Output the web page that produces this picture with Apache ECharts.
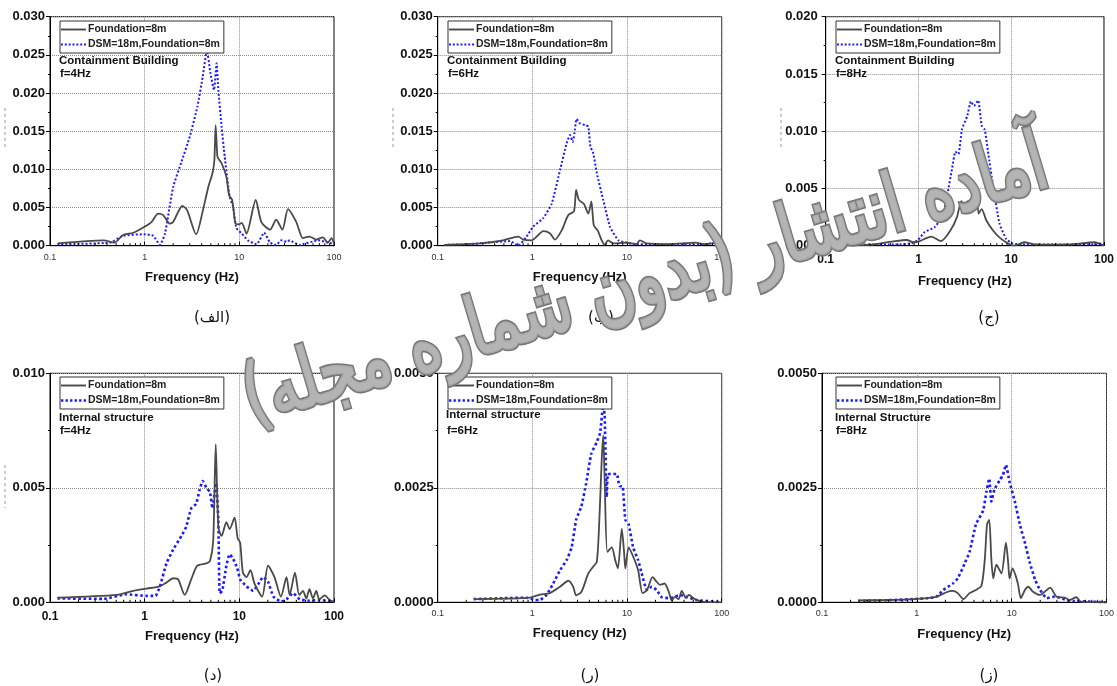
<!DOCTYPE html>
<html>
<head>
<meta charset="utf-8">
<script src="https://cdn.jsdelivr.net/npm/echarts@6/dist/echarts.min.js"></script>
<style>
  html, body { margin: 0; padding: 0; background: #fff; }
  #chart { width: 1117px; height: 686px; }
</style>
</head>
<body>
<div id="chart"></div>
<script>
// ---- Fourier amplitude spectra: [frequency (Hz), amplitude] ----
// Containment building, f = 4 Hz
const cb4Foundation = [[0.12,0.0003],[0.37,0.0007],[0.48,0.0004],[0.59,0.0014],[0.76,0.0017],[1.0,0.0025],[1.18,0.0031],[1.39,0.0042],[1.57,0.0040],[1.84,0.0029],[2.0,0.0031],[2.5,0.0052],[2.8,0.0047],[3.5,0.0015],[4.1,0.0045],[4.7,0.0077],[5.2,0.0095],[5.45,0.0112],[5.62,0.0158],[5.85,0.0118],[6.0,0.0114],[6.5,0.0108],[7.3,0.0090],[7.8,0.0066],[8.4,0.0060],[9.1,0.0029],[9.9,0.0028],[10.6,0.0030],[11.9,0.0016],[14.9,0.0060],[17.1,0.0031],[21.1,0.0021],[24.5,0.0034],[28.5,0.0021],[32.7,0.0048],[40,0.0031],[47,0.0010],[55,0.0012],[65,0.0008],[76,0.0011],[86,0.0004],[94,0.0010],[100,0.0003]];
const cb4Dsm = [[0.12,0.0002],[0.43,0.0004],[0.59,0.0013],[0.98,0.0015],[1.23,0.0013],[1.45,0.0001],[1.64,0.0016],[2.0,0.0077],[2.45,0.0110],[3.0,0.0143],[3.6,0.0182],[4.1,0.0221],[4.55,0.0256],[4.95,0.0226],[5.4,0.0204],[5.75,0.0239],[6.0,0.0204],[6.5,0.0156],[7.0,0.0117],[7.9,0.0064],[8.6,0.0051],[9.3,0.0023],[10.6,0.0016],[12.3,0.0007],[15.2,0.0002],[18.3,0.0017],[21.1,0.0004],[24.5,0.0001],[27.7,0.0007],[31.7,0.0005],[34,0.0007],[43,0.0001],[68,0.0007],[100,0.0002]];
// Containment building, f = 6 Hz
const cb6Foundation = [[0.117,0.0001],[0.28,0.0003],[0.49,0.0007],[0.71,0.0012],[0.8,0.0008],[0.98,0.0007],[1.31,0.0019],[1.54,0.0016],[1.73,0.0008],[2.04,0.0020],[2.39,0.0040],[2.75,0.0045],[2.9,0.0073],[3.1,0.0060],[3.5,0.0055],[3.9,0.0042],[4.2,0.0058],[4.45,0.0027],[4.9,0.0020],[5.4,0.0007],[5.8,0.0001],[6.3,0.0007],[7.2,0.0003],[9.9,0.0004],[12.5,0.0002],[13.7,0.0007],[16,0.0003],[28,0.0002],[53,0.0004],[64,0.0002],[88,0.0004],[100,0.0007]];
const cb6Dsm = [[0.117,0.0001],[0.22,0.0002],[0.33,0.0004],[0.58,0.0006],[0.71,0.0000],[0.87,0.0012],[1.02,0.0025],[1.3,0.0036],[1.6,0.0055],[1.96,0.0099],[2.3,0.0134],[2.5,0.0145],[2.67,0.0136],[2.78,0.0147],[2.93,0.0166],[3.2,0.0160],[3.6,0.0158],[3.9,0.0156],[4.1,0.0130],[4.4,0.0121],[4.8,0.0095],[5.6,0.0060],[6.6,0.0025],[8.1,0.0007],[9.9,0.0004],[11.7,0.0002],[19,0.0002],[42,0.0001],[69,0.0002],[81,0.0004],[92,0.0002],[100,0.0001]];
// Containment building, f = 8 Hz
const cb8Foundation = [[0.116,0.0000],[0.32,0.0001],[0.56,0.0004],[0.75,0.0005],[0.88,0.0003],[1.03,0.0004],[1.37,0.0008],[1.75,0.0004],[2.2,0.0013],[2.6,0.0025],[2.9,0.0039],[3.1,0.0035],[3.4,0.0039],[3.8,0.0034],[4.2,0.0050],[4.45,0.0028],[4.8,0.0032],[5.4,0.0022],[6.4,0.0013],[7.5,0.0007],[9.2,0.0002],[10.8,0.0000],[13.8,0.0003],[18.3,0.0001],[41,0.0001],[79,0.0003],[100,0.0000]];
const cb8Dsm = [[0.116,0.0001],[0.56,0.0001],[0.84,0.0002],[0.99,0.0005],[1.17,0.0012],[1.49,0.0016],[1.82,0.0026],[2.05,0.0045],[2.3,0.0067],[2.5,0.0082],[2.7,0.0080],[2.95,0.0102],[3.35,0.0113],[3.67,0.0126],[3.97,0.0122],[4.4,0.0127],[4.8,0.0105],[5.2,0.0101],[5.6,0.0083],[6.4,0.0051],[7.5,0.0019],[8.8,0.0006],[10.3,0.0002],[13.2,0.0001],[41,0.0001],[79,0.0001],[93,0.0002],[100,0.0001]];
// Internal structure, f = 4 Hz
const is4Foundation = [[0.12,0.0002],[0.51,0.00032],[0.76,0.0005],[1.05,0.0006],[1.45,0.0007],[1.7,0.00086],[2.0,0.00105],[2.26,0.0010],[2.65,0.00032],[3.1,0.0010],[3.6,0.0016],[4.5,0.0017],[4.9,0.0018],[5.3,0.0027],[5.63,0.0069],[6.0,0.0033],[6.5,0.0029],[7.3,0.0035],[7.9,0.0032],[8.9,0.0037],[9.6,0.0028],[10.2,0.0026],[10.9,0.0013],[11.9,0.0011],[13.1,0.0014],[14.5,0.0008],[17.4,0.00025],[20.1,0.0016],[23.5,0.0011],[27.5,0.00025],[31.5,0.0011],[34,0.00032],[38.7,0.0013],[43,0.00032],[47,0.0005],[51,0.00017],[55,0.00057],[60,0.00017],[65,0.0005],[70,0.00013],[80,0.0003],[90,0.0001],[100,0.00003]];
const is4Dsm = [[0.12,0.00017],[0.37,0.00015],[0.64,0.00035],[1.05,0.00028],[1.3,0.00028],[1.45,0.0007],[1.7,0.0017],[2.0,0.0023],[2.45,0.0029],[2.75,0.0033],[3.1,0.0041],[3.5,0.0043],[3.8,0.0049],[4.1,0.0053],[4.5,0.0050],[4.9,0.0048],[5.2,0.0041],[5.5,0.0048],[5.7,0.0052],[6.0,0.0036],[6.2,0.0004],[6.6,0.0005],[7.3,0.0016],[7.9,0.0021],[8.6,0.0019],[9.5,0.0015],[10.2,0.0010],[11.9,0.0007],[14,0.0005],[15.9,0.0008],[17.8,0.0011],[20.1,0.0009],[22.9,0.00025],[27.7,0.00003],[31.5,0.00013],[37,0.0004],[43.5,0.00013],[55,0.00007],[70,0.0001],[100,0.00003]];
// Internal structure, f = 6 Hz
const is6Foundation = [[0.24,0.00007],[0.49,0.00008],[0.94,0.0001],[1.2,0.00017],[1.53,0.0002],[1.96,0.00034],[2.4,0.00047],[2.7,0.00034],[2.9,0.00015],[3.3,0.00023],[3.9,0.00063],[4.4,0.00078],[4.8,0.00089],[5.1,0.0018],[5.4,0.0031],[5.6,0.00365],[5.8,0.0027],[6.2,0.0011],[6.9,0.0012],[7.5,0.00092],[8.0,0.00074],[8.8,0.0016],[9.3,0.0011],[9.6,0.00074],[10.4,0.0012],[11.6,0.0010],[13.1,0.0007],[14.6,0.0002],[16.3,0.00027],[18.6,0.00055],[20.5,0.00045],[22.3,0.00038],[24.9,0.00041],[27.6,0.00023],[29.7,0.00004],[32,0.00012],[35,0.00007],[37.9,0.00025],[42,0.00009],[45,0.00016],[52,0.00007],[64,0.00001],[100,0]];
const is6Dsm = [[0.24,0.00007],[0.49,0.00009],[0.87,0.0001],[1.07,0.00005],[1.2,0.00005],[1.41,0.00016],[1.66,0.00041],[1.96,0.0007],[2.3,0.00092],[2.6,0.0012],[2.9,0.0018],[3.3,0.0021],[3.7,0.0026],[4.2,0.00325],[4.8,0.0035],[5.2,0.0037],[5.6,0.0043],[5.8,0.0041],[6.1,0.0023],[6.3,0.0028],[7.2,0.0028],[7.8,0.0028],[8.3,0.00254],[9.0,0.00253],[9.6,0.0018],[10.4,0.0017],[11.6,0.0012],[13.1,0.00092],[14.3,0.00063],[16.2,0.00027],[18.3,0.00034],[20.5,0.00027],[23.3,0.00011],[28.5,0.00009],[36,0.00016],[44,0.00011],[54,0.00005],[100,0]];
// Internal structure, f = 8 Hz
const is8Foundation = [[0.24,0.00004],[0.48,0.00005],[0.91,0.00007],[1.6,0.00012],[2.05,0.00022],[2.4,0.00025],[2.7,0.0002],[3.1,0.00007],[3.6,0.0002],[4.2,0.00027],[4.8,0.00036],[5.2,0.00092],[5.5,0.0017],[5.8,0.0018],[6.1,0.00096],[6.4,0.00052],[6.9,0.00082],[7.8,0.00063],[8.7,0.0013],[9.2,0.00085],[9.5,0.00052],[10.2,0.00074],[11.1,0.00056],[11.7,0.00038],[12.5,0.00009],[13.8,0.00027],[15,0.00034],[16.8,0.00023],[19.9,0.00016],[23.5,0.00027],[25.4,0.00032],[29.9,0.00012],[36.4,0.0001],[41,0.00005],[48,0.00011],[54,0.00001],[100,0]];
const is8Dsm = [[0.24,0.00003],[0.56,0.00005],[0.91,0.00007],[1.3,0.00009],[1.6,0.00012],[1.9,0.00027],[2.4,0.00041],[2.7,0.00052],[3.2,0.00085],[3.6,0.0011],[4.2,0.0017],[5.0,0.0020],[5.4,0.0024],[5.8,0.0027],[6.1,0.0022],[6.6,0.00247],[7.5,0.00267],[8.1,0.00278],[8.7,0.0030],[9.5,0.00263],[10.8,0.0022],[12.2,0.0017],[13.8,0.0013],[15.6,0.00085],[17.7,0.00049],[19.9,0.00027],[23.5,0.00009],[27.4,0.00012],[32,0.0001],[37.7,0.00005],[44.5,0.00003],[100,0]];

// Series names and per-panel text
const seriesNames = ['Foundation=8m', 'DSM=18m,Foundation=8m'];
const panelTitles = ['Containment Building', 'Containment Building', 'Containment Building', 'Internal structure', 'Internal structure', 'Internal Structure'];
const panelFreqs = ['f=4Hz', 'f=6Hz', 'f=8Hz', 'f=4Hz', 'f=6Hz', 'f=8Hz'];
const panelTags = ['(الف)', '(ب)', '(ج)', '(د)', '(ر)', '(ز)'];
const yMaxes = [0.030, 0.030, 0.020, 0.010, 0.0050, 0.0050];
const yIntervals = [0.005, 0.005, 0.005, 0.005, 0.0025, 0.0025];
const yDecimals = [3, 3, 3, 3, 4, 4];
const xTitle = 'Frequency (Hz)';
const watermarkText = 'آماده انتشار (بدون شماره مجله)';
// positions of the log-axis minor ticks (2..9 of each decade)
const logMinorTicks = [0.2,0.3,0.4,0.5,0.6,0.7,0.8,0.9,2,3,4,5,6,7,8,9,20,30,40,50,60,70,80,90];

const foundationData = [cb4Foundation, cb6Foundation, cb8Foundation, is4Foundation, is6Foundation, is8Foundation];
const dsmData = [cb4Dsm, cb6Dsm, cb8Dsm, is4Dsm, is6Dsm, is8Dsm];

// ---- layout ----
const layout = [
  { left: 50,    top: 16.7,  width: 284,   height: 229, boldX: false, yMargin: 5, nameGap: 25, lx: 60,  ly: 21,  tx: 59,  ty: 61,  fy: 74,  tag: [212, 318], dotW: 2.0 },
  { left: 437.7, top: 16.7,  width: 284,   height: 229, boldX: false, yMargin: 5, nameGap: 25, lx: 448, ly: 21,  tx: 447, ty: 61,  fy: 74,  tag: [601, 318], dotW: 2.0 },
  { left: 825.7, top: 16.7,  width: 283.5, height: 229, boldX: true,  yMargin: 8, nameGap: 29, lx: 836, ly: 21,  tx: 835, ty: 61,  fy: 74,  tag: [989, 318], dotW: 2.0 },
  { left: 50,    top: 373.3, width: 284,   height: 229, boldX: true,  yMargin: 5, nameGap: 28, lx: 60,  ly: 377, tx: 59,  ty: 418, fy: 431, tag: [213, 676], dotW: 2.6 },
  { left: 437.7, top: 373.3, width: 284,   height: 229, boldX: false, yMargin: 4, nameGap: 25, lx: 448, ly: 377, tx: 446, ty: 415, fy: 431, tag: [590, 676], dotW: 2.6 },
  { left: 822,   top: 373.3, width: 288,   height: 229, boldX: false, yMargin: 5, nameGap: 26, lx: 836, ly: 377, tx: 835, ty: 418, fy: 431, tag: [989, 676], dotW: 2.6 }
];

const NUM_FONT = 'Liberation Sans, Arial, Helvetica, sans-serif';
const GRAY = '#4a4a4a';
const BLUE = '#1a1aff';
// legend keys: a solid bar and a row of square dots
const SOLID_KEY = 'path://M0,0H26V2H0Z';
const DOT_KEY = 'path://M0,0h2v2h-2z M4,0h2v2h-2z M8,0h2v2h-2z M12,0h2v2h-2z M16,0h2v2h-2z M20,0h2v2h-2z M24,0h2v2h-2z';
const BIG_DOT_KEY = 'path://M0,0h2.6v2.6h-2.6z M5,0h2.6v2.6h-2.6z M10,0h2.6v2.6h-2.6z M15,0h2.6v2.6h-2.6z M20,0h2.6v2.6h-2.6z M25,0h2.6v2.6h-2.6z';

const grids = [], xAxes = [], yAxes = [], series = [], legends = [], graphics = [];

layout.forEach((L, i) => {
  grids.push({ left: L.left, top: L.top, width: L.width, height: L.height, show: true, borderColor: '#000', borderWidth: 1, backgroundColor: 'transparent' });

  xAxes.push({
    gridIndex: i, type: 'log', logBase: 10, min: 0.1, max: 100,
    name: xTitle, nameLocation: 'middle', nameGap: L.nameGap,
    nameTextStyle: { fontFamily: NUM_FONT, fontWeight: 'bold', fontSize: 13, color: '#111' },
    axisLine: { show: true, onZero: false, lineStyle: { color: '#000', width: 1 } },
    axisTick: { show: true, inside: true, length: 4, lineStyle: { color: '#000' } },
    axisLabel: {
      margin: L.boldX ? 8 : 7,
      fontFamily: NUM_FONT,
      fontSize: L.boldX ? 12 : 9,
      fontWeight: L.boldX ? 'bold' : 'normal',
      color: L.boldX ? '#111' : '#333',
      formatter: v => String(+(+v).toPrecision(3))
    },
    splitLine: { show: true, lineStyle: { color: '#8c8c8c', type: 'dotted', width: 1 } }
  });

  yAxes.push({
    gridIndex: i, type: 'value', min: 0, max: yMaxes[i], interval: yIntervals[i],
    axisLine: { show: true, lineStyle: { color: '#000', width: 1 } },
    axisTick: { show: true, inside: false, length: 4, lineStyle: { color: '#000' } },
    minorTick: { show: true, splitNumber: 2, length: 2, lineStyle: { color: '#000' } },
    axisLabel: {
      margin: L.yMargin, fontFamily: NUM_FONT, fontSize: 13, fontWeight: 'bold', color: '#111',
      formatter: v => (+v).toFixed(yDecimals[i])
    },
    splitLine: { show: true, lineStyle: { color: '#8c8c8c', type: 'dotted', width: 1 } }
  });

  series.push({
    name: seriesNames[0], type: 'line', xAxisIndex: i, yAxisIndex: i,
    data: foundationData[i], symbol: 'none', smooth: 0.25,
    lineStyle: { color: GRAY, width: 1.8, type: 'solid' }, itemStyle: { color: GRAY }, z: 3
  });
  series.push({
    name: seriesNames[1], type: 'line', xAxisIndex: i, yAxisIndex: i,
    data: dsmData[i], symbol: 'none', smooth: 0.15,
    lineStyle: { color: BLUE, width: L.dotW, type: 'dotted' }, itemStyle: { color: BLUE }, z: 2
  });
  // minor ticks of the log frequency axis, placed through the axis scale
  series.push({
    type: 'custom', xAxisIndex: i, yAxisIndex: i, silent: true, clip: false, z: 4,
    data: logMinorTicks.map(f => [f, 0]),
    renderItem: (params, api) => {
      const p = api.coord([api.value(0), api.value(1)]);
      return { type: 'line', shape: { x1: p[0], y1: p[1], x2: p[0], y2: p[1] - 2.5 }, style: { stroke: '#000', lineWidth: 1 } };
    }
  });

  legends.push({
    left: L.lx, top: L.ly, orient: 'vertical', selectedMode: false,
    itemWidth: 25, itemHeight: 10, itemGap: 4, symbolKeepAspect: true,
    padding: [3, 4, 3, 1], borderColor: '#333', borderWidth: 1, backgroundColor: '#fff',
    textStyle: { fontFamily: NUM_FONT, fontWeight: 'bold', fontSize: 10.5, color: '#222', padding: [0, 0, 0, -3] },
    data: [
      { name: seriesNames[0], icon: SOLID_KEY },
      { name: seriesNames[1], icon: L.dotW > 2.2 ? BIG_DOT_KEY : DOT_KEY }
    ]
  });

  graphics.push({
    type: 'text', x: L.tx, y: L.ty, z: 20,
    style: { text: panelTitles[i], font: 'bold 11.5px ' + NUM_FONT, fill: '#111', textAlign: 'left', textVerticalAlign: 'middle', align: 'left', verticalAlign: 'middle' }
  });
  graphics.push({
    type: 'text', x: L.tx + 1, y: L.fy, z: 20,
    style: { text: panelFreqs[i], font: 'bold 11.5px ' + NUM_FONT, fill: '#111', textAlign: 'left', textVerticalAlign: 'middle', align: 'left', verticalAlign: 'middle' }
  });
  graphics.push({
    type: 'text', x: L.tag[0], y: L.tag[1], z: 20,
    style: { text: panelTags[i], font: '15px "DejaVu Sans", "Noto Sans", sans-serif', fill: '#111', textAlign: 'center', textVerticalAlign: 'middle', align: 'center', verticalAlign: 'middle' }
  });
});

// cropped remnants of the vertical axis titles
[[5, 108, 150], [393, 108, 150], [781, 108, 150], [5, 465, 508]].forEach(s => {
  graphics.push({ type: 'line', z: 5, shape: { x1: s[0], y1: s[1], x2: s[0], y2: s[2] }, style: { stroke: '#9a9a9a', lineWidth: 1, lineDash: [3, 3] } });
});

// diagonal outlined watermark, drawn with heavier glyphs and a soft edge
(function () {
  const family = '"DejaVu Sans", sans-serif';
  const ctx = document.createElement('canvas').getContext('2d');
  ctx.font = '100px ' + family;
  const w100 = ctx.measureText(watermarkText).width || 1;
  const size = Math.round(100 * 830 / w100);
  const base = {
    type: 'text', x: 646, y: 284, rotation: 16.6 * Math.PI / 180, scaleX: 1, scaleY: 1.3
  };
  // light outer rim
  graphics.push(Object.assign({}, base, {
    z: 99,
    style: {
      text: watermarkText, font: size + 'px ' + family,
      textAlign: 'center', textVerticalAlign: 'middle', align: 'center', verticalAlign: 'middle',
      fill: '#8c8c8c', stroke: '#777777', lineWidth: 4.5,
      shadowColor: 'rgba(0,0,0,0.3)', shadowBlur: 2, shadowOffsetX: 1, shadowOffsetY: 1
    }
  }));
  // main body of the glyphs
  graphics.push(Object.assign({}, base, {
    z: 100,
    style: {
      text: watermarkText, font: size + 'px ' + family,
      textAlign: 'center', textVerticalAlign: 'middle', align: 'center', verticalAlign: 'middle',
      fill: '#b4b4b4', stroke: '#a6a6a6', lineWidth: 2, strokeFirst: true
    }
  }));
})();

const chart = echarts.init(document.getElementById('chart'), null, { renderer: 'canvas' });
chart.setOption({
  animation: false,
  backgroundColor: '#fff',
  grid: grids,
  xAxis: xAxes,
  yAxis: yAxes,
  legend: legends,
  series: series,
  graphic: graphics
});
</script>
</body>
</html>
